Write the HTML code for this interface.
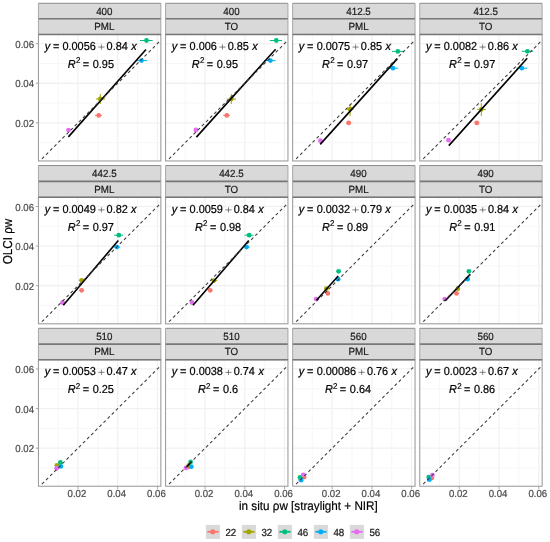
<!DOCTYPE html><html><head><meta charset="utf-8"><style>html,body{margin:0;padding:0;background:#fff;}svg{display:block;will-change:transform;}text{font-family:"Liberation Sans",sans-serif;text-rendering:geometricPrecision;}</style></head><body>
<svg width="550" height="542" viewBox="0 0 550 542">
<rect width="550" height="542" fill="#fff"/>
<rect x="38.45" y="3.3" width="122.4" height="31.15" fill="#d9d9d9"/>
<path d="M38.45 3.3H160.85" stroke="#8a8a8a" stroke-width="1"/>
<path d="M38.45 18.8H160.85" stroke="#777777" stroke-width="1.6"/>
<path d="M38.45 3.3V34.45M160.85 3.3V34.45" stroke="#9f9f9f" stroke-width="0.9"/>
<text x="104.35" y="14.6" font-size="9.8" fill="#1a1a1a" text-anchor="middle" stroke="#1a1a1a" stroke-width="0.2" transform="matrix(1 0 0 1.06 0 -0.67)">400</text>
<text x="104.35" y="30.2" font-size="9.8" fill="#1a1a1a" text-anchor="middle" stroke="#1a1a1a" stroke-width="0.2" transform="matrix(1 0 0 1.06 0 -1.6)">PML</text>
<clipPath id="c0"><rect x="38.45" y="34.45" width="122.4" height="126.5"/></clipPath>
<g clip-path="url(#c0)">
<line x1="58.05" y1="34.45" x2="58.05" y2="160.95" stroke="#f7f7f7" stroke-width="1.0"/>
<line x1="77.95" y1="34.45" x2="77.95" y2="160.95" stroke="#f1f1f1" stroke-width="1.3"/>
<line x1="97.85" y1="34.45" x2="97.85" y2="160.95" stroke="#f7f7f7" stroke-width="1.0"/>
<line x1="117.7" y1="34.45" x2="117.7" y2="160.95" stroke="#f1f1f1" stroke-width="1.3"/>
<line x1="137.55" y1="34.45" x2="137.55" y2="160.95" stroke="#f7f7f7" stroke-width="1.0"/>
<line x1="157.45" y1="34.45" x2="157.45" y2="160.95" stroke="#f1f1f1" stroke-width="1.3"/>
<line x1="38.45" y1="43.65" x2="160.85" y2="43.65" stroke="#f1f1f1" stroke-width="1.3"/>
<line x1="38.45" y1="63.45" x2="160.85" y2="63.45" stroke="#f7f7f7" stroke-width="1.0"/>
<line x1="38.45" y1="83.25" x2="160.85" y2="83.25" stroke="#f1f1f1" stroke-width="1.3"/>
<line x1="38.45" y1="103.05" x2="160.85" y2="103.05" stroke="#f7f7f7" stroke-width="1.0"/>
<line x1="38.45" y1="122.9" x2="160.85" y2="122.9" stroke="#f1f1f1" stroke-width="1.3"/>
<line x1="38.45" y1="142.7" x2="160.85" y2="142.7" stroke="#f7f7f7" stroke-width="1.0"/>
<line x1="95" y1="115.4" x2="102" y2="115.4" stroke="#F8766D" stroke-width="1"/>
<line x1="96" y1="99" x2="105" y2="99" stroke="#A3A500" stroke-width="1"/>
<line x1="100.3" y1="94" x2="100.3" y2="104" stroke="#A3A500" stroke-width="1"/>
<line x1="140" y1="40.5" x2="152.7" y2="40.5" stroke="#00BF7D" stroke-width="1"/>
<line x1="136.4" y1="60.6" x2="147.1" y2="60.6" stroke="#00B0F6" stroke-width="1"/>
<circle cx="98.7" cy="115.4" r="2.4" fill="#F8766D"/>
<circle cx="100.3" cy="99" r="2.4" fill="#A3A500"/>
<circle cx="146.5" cy="40.5" r="2.4" fill="#00BF7D"/>
<circle cx="141.5" cy="60.6" r="2.4" fill="#00B0F6"/>
<circle cx="68.5" cy="130.1" r="2.4" fill="#E76BF3"/>
<line x1="68.4" y1="136.9" x2="146" y2="49.5" stroke="#000" stroke-width="1.6"/>
<line x1="39.8" y1="160.95" x2="160.85" y2="40.21" stroke="#3a3a3a" stroke-width="1.05" stroke-dasharray="3.1 2.7" stroke-dashoffset="-2.95"/>
</g>
<rect x="38.45" y="34.45" width="122.4" height="126.5" fill="none" stroke="#9f9f9f" stroke-width="1.1"/>
<path d="M38.45 34.45H160.85" stroke="#777777" stroke-width="1.6"/>
<text x="44.67" y="49.55" font-size="10.9" fill="#000" font-style="italic" stroke="#000" stroke-width="0.2" transform="matrix(1 0 0 1.06 0 -2.74)">y</text>
<text x="52.88" y="49.55" font-size="10.9" fill="#000" stroke="#000" stroke-width="0.2" transform="matrix(1 0 0 1.06 0 -2.74)">=</text>
<text x="62.49" y="49.55" font-size="10.9" fill="#000" stroke="#000" stroke-width="0.2" transform="matrix(1 0 0 1.06 0 -2.74)">0.0056</text>
<path d="M98.3 47.05H104.5M101.4 44.45V49.65" stroke="#555" stroke-width="0.75" fill="none"/>
<text x="106.62" y="49.55" font-size="10.9" fill="#000" stroke="#000" stroke-width="0.2" transform="matrix(1 0 0 1.06 0 -2.74)">0.84</text>
<text x="131.3" y="49.55" font-size="10.9" fill="#000" font-style="italic" stroke="#000" stroke-width="0.2" transform="matrix(1 0 0 1.06 0 -2.74)">x</text>
<text x="67.84" y="67.55" font-size="10.9" fill="#000" font-style="italic" stroke="#000" stroke-width="0.2" transform="matrix(1 0 0 1.06 0 -3.82)">R</text>
<text x="75.97" y="63.15" font-size="8" fill="#000" stroke="#000" stroke-width="0.2" transform="matrix(1 0 0 1.06 0 -3.62)">2</text>
<text x="82.79" y="67.55" font-size="10.9" fill="#000" stroke="#000" stroke-width="0.2" transform="matrix(1 0 0 1.06 0 -3.82)">=</text>
<text x="92.79" y="67.55" font-size="10.9" fill="#000" stroke="#000" stroke-width="0.2" transform="matrix(1 0 0 1.06 0 -3.82)">0.95</text>
<rect x="165.55" y="3.3" width="122.4" height="31.15" fill="#d9d9d9"/>
<path d="M165.55 3.3H287.95" stroke="#8a8a8a" stroke-width="1"/>
<path d="M165.55 18.8H287.95" stroke="#777777" stroke-width="1.6"/>
<path d="M165.55 3.3V34.45M287.95 3.3V34.45" stroke="#9f9f9f" stroke-width="0.9"/>
<text x="231.45" y="14.6" font-size="9.8" fill="#1a1a1a" text-anchor="middle" stroke="#1a1a1a" stroke-width="0.2" transform="matrix(1 0 0 1.06 0 -0.67)">400</text>
<text x="231.45" y="30.2" font-size="9.8" fill="#1a1a1a" text-anchor="middle" stroke="#1a1a1a" stroke-width="0.2" transform="matrix(1 0 0 1.06 0 -1.6)">TO</text>
<clipPath id="c1"><rect x="165.55" y="34.45" width="122.4" height="126.5"/></clipPath>
<g clip-path="url(#c1)">
<line x1="185.15" y1="34.45" x2="185.15" y2="160.95" stroke="#f7f7f7" stroke-width="1.0"/>
<line x1="205.05" y1="34.45" x2="205.05" y2="160.95" stroke="#f1f1f1" stroke-width="1.3"/>
<line x1="224.95" y1="34.45" x2="224.95" y2="160.95" stroke="#f7f7f7" stroke-width="1.0"/>
<line x1="244.8" y1="34.45" x2="244.8" y2="160.95" stroke="#f1f1f1" stroke-width="1.3"/>
<line x1="264.65" y1="34.45" x2="264.65" y2="160.95" stroke="#f7f7f7" stroke-width="1.0"/>
<line x1="284.55" y1="34.45" x2="284.55" y2="160.95" stroke="#f1f1f1" stroke-width="1.3"/>
<line x1="165.55" y1="43.65" x2="287.95" y2="43.65" stroke="#f1f1f1" stroke-width="1.3"/>
<line x1="165.55" y1="63.45" x2="287.95" y2="63.45" stroke="#f7f7f7" stroke-width="1.0"/>
<line x1="165.55" y1="83.25" x2="287.95" y2="83.25" stroke="#f1f1f1" stroke-width="1.3"/>
<line x1="165.55" y1="103.05" x2="287.95" y2="103.05" stroke="#f7f7f7" stroke-width="1.0"/>
<line x1="165.55" y1="122.9" x2="287.95" y2="122.9" stroke="#f1f1f1" stroke-width="1.3"/>
<line x1="165.55" y1="142.7" x2="287.95" y2="142.7" stroke="#f7f7f7" stroke-width="1.0"/>
<line x1="223.1" y1="115.4" x2="230.1" y2="115.4" stroke="#F8766D" stroke-width="1"/>
<line x1="226.8" y1="99.1" x2="236" y2="99.1" stroke="#A3A500" stroke-width="1"/>
<line x1="231.3" y1="94" x2="231.3" y2="103.9" stroke="#A3A500" stroke-width="1"/>
<line x1="269.8" y1="40.5" x2="282.2" y2="40.5" stroke="#00BF7D" stroke-width="1"/>
<line x1="264.2" y1="60.6" x2="275.7" y2="60.6" stroke="#00B0F6" stroke-width="1"/>
<circle cx="226.8" cy="115.4" r="2.4" fill="#F8766D"/>
<circle cx="231.3" cy="99.1" r="2.4" fill="#A3A500"/>
<circle cx="276.3" cy="40.5" r="2.4" fill="#00BF7D"/>
<circle cx="270.4" cy="60.6" r="2.4" fill="#00B0F6"/>
<circle cx="195.9" cy="130" r="2.4" fill="#E76BF3"/>
<line x1="196.4" y1="137.1" x2="275.6" y2="49.2" stroke="#000" stroke-width="1.6"/>
<line x1="166.9" y1="160.95" x2="287.95" y2="40.21" stroke="#3a3a3a" stroke-width="1.05" stroke-dasharray="3.1 2.7" stroke-dashoffset="-2.95"/>
</g>
<rect x="165.55" y="34.45" width="122.4" height="126.5" fill="none" stroke="#9f9f9f" stroke-width="1.1"/>
<path d="M165.55 34.45H287.95" stroke="#777777" stroke-width="1.6"/>
<text x="171.77" y="49.55" font-size="10.9" fill="#000" font-style="italic" stroke="#000" stroke-width="0.2" transform="matrix(1 0 0 1.06 0 -2.74)">y</text>
<text x="179.98" y="49.55" font-size="10.9" fill="#000" stroke="#000" stroke-width="0.2" transform="matrix(1 0 0 1.06 0 -2.74)">=</text>
<text x="189.59" y="49.55" font-size="10.9" fill="#000" stroke="#000" stroke-width="0.2" transform="matrix(1 0 0 1.06 0 -2.74)">0.006</text>
<path d="M219.33 47.05H225.53M222.43 44.45V49.65" stroke="#555" stroke-width="0.75" fill="none"/>
<text x="227.66" y="49.55" font-size="10.9" fill="#000" stroke="#000" stroke-width="0.2" transform="matrix(1 0 0 1.06 0 -2.74)">0.85</text>
<text x="252.2" y="49.55" font-size="10.9" fill="#000" font-style="italic" stroke="#000" stroke-width="0.2" transform="matrix(1 0 0 1.06 0 -2.74)">x</text>
<text x="191.84" y="67.55" font-size="10.9" fill="#000" font-style="italic" stroke="#000" stroke-width="0.2" transform="matrix(1 0 0 1.06 0 -3.82)">R</text>
<text x="199.97" y="63.15" font-size="8" fill="#000" stroke="#000" stroke-width="0.2" transform="matrix(1 0 0 1.06 0 -3.62)">2</text>
<text x="206.79" y="67.55" font-size="10.9" fill="#000" stroke="#000" stroke-width="0.2" transform="matrix(1 0 0 1.06 0 -3.82)">=</text>
<text x="216.79" y="67.55" font-size="10.9" fill="#000" stroke="#000" stroke-width="0.2" transform="matrix(1 0 0 1.06 0 -3.82)">0.95</text>
<rect x="292.65" y="3.3" width="122.4" height="31.15" fill="#d9d9d9"/>
<path d="M292.65 3.3H415.05" stroke="#8a8a8a" stroke-width="1"/>
<path d="M292.65 18.8H415.05" stroke="#777777" stroke-width="1.6"/>
<path d="M292.65 3.3V34.45M415.05 3.3V34.45" stroke="#9f9f9f" stroke-width="0.9"/>
<text x="358.55" y="14.6" font-size="9.8" fill="#1a1a1a" text-anchor="middle" stroke="#1a1a1a" stroke-width="0.2" transform="matrix(1 0 0 1.06 0 -0.67)">412.5</text>
<text x="358.55" y="30.2" font-size="9.8" fill="#1a1a1a" text-anchor="middle" stroke="#1a1a1a" stroke-width="0.2" transform="matrix(1 0 0 1.06 0 -1.6)">PML</text>
<clipPath id="c2"><rect x="292.65" y="34.45" width="122.4" height="126.5"/></clipPath>
<g clip-path="url(#c2)">
<line x1="312.25" y1="34.45" x2="312.25" y2="160.95" stroke="#f7f7f7" stroke-width="1.0"/>
<line x1="332.15" y1="34.45" x2="332.15" y2="160.95" stroke="#f1f1f1" stroke-width="1.3"/>
<line x1="352.05" y1="34.45" x2="352.05" y2="160.95" stroke="#f7f7f7" stroke-width="1.0"/>
<line x1="371.9" y1="34.45" x2="371.9" y2="160.95" stroke="#f1f1f1" stroke-width="1.3"/>
<line x1="391.75" y1="34.45" x2="391.75" y2="160.95" stroke="#f7f7f7" stroke-width="1.0"/>
<line x1="411.65" y1="34.45" x2="411.65" y2="160.95" stroke="#f1f1f1" stroke-width="1.3"/>
<line x1="292.65" y1="43.65" x2="415.05" y2="43.65" stroke="#f1f1f1" stroke-width="1.3"/>
<line x1="292.65" y1="63.45" x2="415.05" y2="63.45" stroke="#f7f7f7" stroke-width="1.0"/>
<line x1="292.65" y1="83.25" x2="415.05" y2="83.25" stroke="#f1f1f1" stroke-width="1.3"/>
<line x1="292.65" y1="103.05" x2="415.05" y2="103.05" stroke="#f7f7f7" stroke-width="1.0"/>
<line x1="292.65" y1="122.9" x2="415.05" y2="122.9" stroke="#f1f1f1" stroke-width="1.3"/>
<line x1="292.65" y1="142.7" x2="415.05" y2="142.7" stroke="#f7f7f7" stroke-width="1.0"/>
<line x1="346.1" y1="122.9" x2="351.2" y2="122.9" stroke="#F8766D" stroke-width="1"/>
<line x1="346.1" y1="109.2" x2="353.8" y2="109.2" stroke="#A3A500" stroke-width="1"/>
<line x1="350.1" y1="103.9" x2="350.1" y2="116" stroke="#A3A500" stroke-width="1"/>
<line x1="392" y1="51.4" x2="403.9" y2="51.4" stroke="#00BF7D" stroke-width="1"/>
<line x1="387.3" y1="68.2" x2="398.3" y2="68.2" stroke="#00B0F6" stroke-width="1"/>
<circle cx="348.7" cy="122.9" r="2.4" fill="#F8766D"/>
<circle cx="350.1" cy="109.2" r="2.4" fill="#A3A500"/>
<circle cx="397.8" cy="51.4" r="2.4" fill="#00BF7D"/>
<circle cx="392.9" cy="68.2" r="2.4" fill="#00B0F6"/>
<circle cx="320.4" cy="140.7" r="2.4" fill="#E76BF3"/>
<line x1="320.2" y1="144.4" x2="397.4" y2="58.6" stroke="#000" stroke-width="1.6"/>
<line x1="294" y1="160.95" x2="415.05" y2="40.21" stroke="#3a3a3a" stroke-width="1.05" stroke-dasharray="3.1 2.7" stroke-dashoffset="-2.95"/>
</g>
<rect x="292.65" y="34.45" width="122.4" height="126.5" fill="none" stroke="#9f9f9f" stroke-width="1.1"/>
<path d="M292.65 34.45H415.05" stroke="#777777" stroke-width="1.6"/>
<text x="298.87" y="49.55" font-size="10.9" fill="#000" font-style="italic" stroke="#000" stroke-width="0.2" transform="matrix(1 0 0 1.06 0 -2.74)">y</text>
<text x="307.08" y="49.55" font-size="10.9" fill="#000" stroke="#000" stroke-width="0.2" transform="matrix(1 0 0 1.06 0 -2.74)">=</text>
<text x="316.69" y="49.55" font-size="10.9" fill="#000" stroke="#000" stroke-width="0.2" transform="matrix(1 0 0 1.06 0 -2.74)">0.0075</text>
<path d="M352.52 47.05H358.72M355.62 44.45V49.65" stroke="#555" stroke-width="0.75" fill="none"/>
<text x="360.84" y="49.55" font-size="10.9" fill="#000" stroke="#000" stroke-width="0.2" transform="matrix(1 0 0 1.06 0 -2.74)">0.85</text>
<text x="385.38" y="49.55" font-size="10.9" fill="#000" font-style="italic" stroke="#000" stroke-width="0.2" transform="matrix(1 0 0 1.06 0 -2.74)">x</text>
<text x="322.03" y="67.55" font-size="10.9" fill="#000" font-style="italic" stroke="#000" stroke-width="0.2" transform="matrix(1 0 0 1.06 0 -3.82)">R</text>
<text x="330.16" y="63.15" font-size="8" fill="#000" stroke="#000" stroke-width="0.2" transform="matrix(1 0 0 1.06 0 -3.62)">2</text>
<text x="336.97" y="67.55" font-size="10.9" fill="#000" stroke="#000" stroke-width="0.2" transform="matrix(1 0 0 1.06 0 -3.82)">=</text>
<text x="346.98" y="67.55" font-size="10.9" fill="#000" stroke="#000" stroke-width="0.2" transform="matrix(1 0 0 1.06 0 -3.82)">0.97</text>
<rect x="419.75" y="3.3" width="122.4" height="31.15" fill="#d9d9d9"/>
<path d="M419.75 3.3H542.15" stroke="#8a8a8a" stroke-width="1"/>
<path d="M419.75 18.8H542.15" stroke="#777777" stroke-width="1.6"/>
<path d="M419.75 3.3V34.45M542.15 3.3V34.45" stroke="#9f9f9f" stroke-width="0.9"/>
<text x="485.65" y="14.6" font-size="9.8" fill="#1a1a1a" text-anchor="middle" stroke="#1a1a1a" stroke-width="0.2" transform="matrix(1 0 0 1.06 0 -0.67)">412.5</text>
<text x="485.65" y="30.2" font-size="9.8" fill="#1a1a1a" text-anchor="middle" stroke="#1a1a1a" stroke-width="0.2" transform="matrix(1 0 0 1.06 0 -1.6)">TO</text>
<clipPath id="c3"><rect x="419.75" y="34.45" width="122.4" height="126.5"/></clipPath>
<g clip-path="url(#c3)">
<line x1="439.35" y1="34.45" x2="439.35" y2="160.95" stroke="#f7f7f7" stroke-width="1.0"/>
<line x1="459.25" y1="34.45" x2="459.25" y2="160.95" stroke="#f1f1f1" stroke-width="1.3"/>
<line x1="479.15" y1="34.45" x2="479.15" y2="160.95" stroke="#f7f7f7" stroke-width="1.0"/>
<line x1="499" y1="34.45" x2="499" y2="160.95" stroke="#f1f1f1" stroke-width="1.3"/>
<line x1="518.85" y1="34.45" x2="518.85" y2="160.95" stroke="#f7f7f7" stroke-width="1.0"/>
<line x1="538.75" y1="34.45" x2="538.75" y2="160.95" stroke="#f1f1f1" stroke-width="1.3"/>
<line x1="419.75" y1="43.65" x2="542.15" y2="43.65" stroke="#f1f1f1" stroke-width="1.3"/>
<line x1="419.75" y1="63.45" x2="542.15" y2="63.45" stroke="#f7f7f7" stroke-width="1.0"/>
<line x1="419.75" y1="83.25" x2="542.15" y2="83.25" stroke="#f1f1f1" stroke-width="1.3"/>
<line x1="419.75" y1="103.05" x2="542.15" y2="103.05" stroke="#f7f7f7" stroke-width="1.0"/>
<line x1="419.75" y1="122.9" x2="542.15" y2="122.9" stroke="#f1f1f1" stroke-width="1.3"/>
<line x1="419.75" y1="142.7" x2="542.15" y2="142.7" stroke="#f7f7f7" stroke-width="1.0"/>
<line x1="474.5" y1="122.9" x2="479.3" y2="122.9" stroke="#F8766D" stroke-width="1"/>
<line x1="477.1" y1="109.4" x2="486" y2="109.4" stroke="#A3A500" stroke-width="1"/>
<line x1="481.3" y1="103.1" x2="481.3" y2="116" stroke="#A3A500" stroke-width="1"/>
<line x1="521.6" y1="51.3" x2="533.2" y2="51.3" stroke="#00BF7D" stroke-width="1"/>
<line x1="516.6" y1="68.2" x2="527.2" y2="68.2" stroke="#00B0F6" stroke-width="1"/>
<circle cx="476.8" cy="122.9" r="2.4" fill="#F8766D"/>
<circle cx="481.3" cy="109.4" r="2.4" fill="#A3A500"/>
<circle cx="527.4" cy="51.3" r="2.4" fill="#00BF7D"/>
<circle cx="521.9" cy="68.2" r="2.4" fill="#00B0F6"/>
<circle cx="448.5" cy="140.2" r="2.4" fill="#E76BF3"/>
<line x1="448.8" y1="145.6" x2="527.2" y2="58.3" stroke="#000" stroke-width="1.6"/>
<line x1="421.1" y1="160.95" x2="542.15" y2="40.21" stroke="#3a3a3a" stroke-width="1.05" stroke-dasharray="3.1 2.7" stroke-dashoffset="-2.95"/>
</g>
<rect x="419.75" y="34.45" width="122.4" height="126.5" fill="none" stroke="#9f9f9f" stroke-width="1.1"/>
<path d="M419.75 34.45H542.15" stroke="#777777" stroke-width="1.6"/>
<text x="425.97" y="49.55" font-size="10.9" fill="#000" font-style="italic" stroke="#000" stroke-width="0.2" transform="matrix(1 0 0 1.06 0 -2.74)">y</text>
<text x="434.18" y="49.55" font-size="10.9" fill="#000" stroke="#000" stroke-width="0.2" transform="matrix(1 0 0 1.06 0 -2.74)">=</text>
<text x="443.79" y="49.55" font-size="10.9" fill="#000" stroke="#000" stroke-width="0.2" transform="matrix(1 0 0 1.06 0 -2.74)">0.0082</text>
<path d="M479.53 47.05H485.73M482.63 44.45V49.65" stroke="#555" stroke-width="0.75" fill="none"/>
<text x="487.85" y="49.55" font-size="10.9" fill="#000" stroke="#000" stroke-width="0.2" transform="matrix(1 0 0 1.06 0 -2.74)">0.86</text>
<text x="512.37" y="49.55" font-size="10.9" fill="#000" font-style="italic" stroke="#000" stroke-width="0.2" transform="matrix(1 0 0 1.06 0 -2.74)">x</text>
<text x="449.07" y="67.55" font-size="10.9" fill="#000" font-style="italic" stroke="#000" stroke-width="0.2" transform="matrix(1 0 0 1.06 0 -3.82)">R</text>
<text x="457.2" y="63.15" font-size="8" fill="#000" stroke="#000" stroke-width="0.2" transform="matrix(1 0 0 1.06 0 -3.62)">2</text>
<text x="464.02" y="67.55" font-size="10.9" fill="#000" stroke="#000" stroke-width="0.2" transform="matrix(1 0 0 1.06 0 -3.82)">=</text>
<text x="474.02" y="67.55" font-size="10.9" fill="#000" stroke="#000" stroke-width="0.2" transform="matrix(1 0 0 1.06 0 -3.82)">0.97</text>
<rect x="38.45" y="165.55" width="122.4" height="31.75" fill="#d9d9d9"/>
<path d="M38.45 165.55H160.85" stroke="#8a8a8a" stroke-width="1"/>
<path d="M38.45 181.35H160.85" stroke="#777777" stroke-width="1.6"/>
<path d="M38.45 165.55V197.3M160.85 165.55V197.3" stroke="#9f9f9f" stroke-width="0.9"/>
<text x="104.35" y="176.85" font-size="9.8" fill="#1a1a1a" text-anchor="middle" stroke="#1a1a1a" stroke-width="0.2" transform="matrix(1 0 0 1.06 0 -10.4)">442.5</text>
<text x="104.35" y="192.45" font-size="9.8" fill="#1a1a1a" text-anchor="middle" stroke="#1a1a1a" stroke-width="0.2" transform="matrix(1 0 0 1.06 0 -11.34)">PML</text>
<clipPath id="c4"><rect x="38.45" y="197.3" width="122.4" height="126.5"/></clipPath>
<g clip-path="url(#c4)">
<line x1="58.05" y1="197.3" x2="58.05" y2="323.8" stroke="#f7f7f7" stroke-width="1.0"/>
<line x1="77.95" y1="197.3" x2="77.95" y2="323.8" stroke="#f1f1f1" stroke-width="1.3"/>
<line x1="97.85" y1="197.3" x2="97.85" y2="323.8" stroke="#f7f7f7" stroke-width="1.0"/>
<line x1="117.7" y1="197.3" x2="117.7" y2="323.8" stroke="#f1f1f1" stroke-width="1.3"/>
<line x1="137.55" y1="197.3" x2="137.55" y2="323.8" stroke="#f7f7f7" stroke-width="1.0"/>
<line x1="157.45" y1="197.3" x2="157.45" y2="323.8" stroke="#f1f1f1" stroke-width="1.3"/>
<line x1="38.45" y1="206.5" x2="160.85" y2="206.5" stroke="#f1f1f1" stroke-width="1.3"/>
<line x1="38.45" y1="226.3" x2="160.85" y2="226.3" stroke="#f7f7f7" stroke-width="1.0"/>
<line x1="38.45" y1="246.1" x2="160.85" y2="246.1" stroke="#f1f1f1" stroke-width="1.3"/>
<line x1="38.45" y1="265.9" x2="160.85" y2="265.9" stroke="#f7f7f7" stroke-width="1.0"/>
<line x1="38.45" y1="285.75" x2="160.85" y2="285.75" stroke="#f1f1f1" stroke-width="1.3"/>
<line x1="38.45" y1="305.55" x2="160.85" y2="305.55" stroke="#f7f7f7" stroke-width="1.0"/>
<line x1="78.9" y1="280.3" x2="85.2" y2="280.3" stroke="#A3A500" stroke-width="1"/>
<line x1="114.1" y1="235.2" x2="123" y2="235.2" stroke="#00BF7D" stroke-width="1"/>
<line x1="113.8" y1="247.1" x2="120.2" y2="247.1" stroke="#00B0F6" stroke-width="1"/>
<circle cx="81.6" cy="290.3" r="2.4" fill="#F8766D"/>
<circle cx="81.6" cy="280.3" r="2.4" fill="#A3A500"/>
<circle cx="118.8" cy="235.2" r="2.4" fill="#00BF7D"/>
<circle cx="116.9" cy="247.1" r="2.4" fill="#00B0F6"/>
<circle cx="62.6" cy="302.5" r="2.4" fill="#E76BF3"/>
<line x1="63.3" y1="305.2" x2="118.3" y2="240.5" stroke="#000" stroke-width="1.6"/>
<line x1="39.8" y1="323.8" x2="160.85" y2="203.06" stroke="#3a3a3a" stroke-width="1.05" stroke-dasharray="3.1 2.7" stroke-dashoffset="-2.95"/>
</g>
<rect x="38.45" y="197.3" width="122.4" height="126.5" fill="none" stroke="#9f9f9f" stroke-width="1.1"/>
<path d="M38.45 197.3H160.85" stroke="#777777" stroke-width="1.6"/>
<text x="44.67" y="212.4" font-size="10.9" fill="#000" font-style="italic" stroke="#000" stroke-width="0.2" transform="matrix(1 0 0 1.06 0 -12.51)">y</text>
<text x="52.88" y="212.4" font-size="10.9" fill="#000" stroke="#000" stroke-width="0.2" transform="matrix(1 0 0 1.06 0 -12.51)">=</text>
<text x="62.49" y="212.4" font-size="10.9" fill="#000" stroke="#000" stroke-width="0.2" transform="matrix(1 0 0 1.06 0 -12.51)">0.0049</text>
<path d="M98.26 209.9H104.46M101.36 207.3V212.5" stroke="#555" stroke-width="0.75" fill="none"/>
<text x="106.58" y="212.4" font-size="10.9" fill="#000" stroke="#000" stroke-width="0.2" transform="matrix(1 0 0 1.06 0 -12.51)">0.82</text>
<text x="131.03" y="212.4" font-size="10.9" fill="#000" font-style="italic" stroke="#000" stroke-width="0.2" transform="matrix(1 0 0 1.06 0 -12.51)">x</text>
<text x="67.75" y="230.4" font-size="10.9" fill="#000" font-style="italic" stroke="#000" stroke-width="0.2" transform="matrix(1 0 0 1.06 0 -13.59)">R</text>
<text x="75.88" y="226" font-size="8" fill="#000" stroke="#000" stroke-width="0.2" transform="matrix(1 0 0 1.06 0 -13.39)">2</text>
<text x="82.7" y="230.4" font-size="10.9" fill="#000" stroke="#000" stroke-width="0.2" transform="matrix(1 0 0 1.06 0 -13.59)">=</text>
<text x="92.7" y="230.4" font-size="10.9" fill="#000" stroke="#000" stroke-width="0.2" transform="matrix(1 0 0 1.06 0 -13.59)">0.97</text>
<rect x="165.55" y="165.55" width="122.4" height="31.75" fill="#d9d9d9"/>
<path d="M165.55 165.55H287.95" stroke="#8a8a8a" stroke-width="1"/>
<path d="M165.55 181.35H287.95" stroke="#777777" stroke-width="1.6"/>
<path d="M165.55 165.55V197.3M287.95 165.55V197.3" stroke="#9f9f9f" stroke-width="0.9"/>
<text x="231.45" y="176.85" font-size="9.8" fill="#1a1a1a" text-anchor="middle" stroke="#1a1a1a" stroke-width="0.2" transform="matrix(1 0 0 1.06 0 -10.4)">442.5</text>
<text x="231.45" y="192.45" font-size="9.8" fill="#1a1a1a" text-anchor="middle" stroke="#1a1a1a" stroke-width="0.2" transform="matrix(1 0 0 1.06 0 -11.34)">TO</text>
<clipPath id="c5"><rect x="165.55" y="197.3" width="122.4" height="126.5"/></clipPath>
<g clip-path="url(#c5)">
<line x1="185.15" y1="197.3" x2="185.15" y2="323.8" stroke="#f7f7f7" stroke-width="1.0"/>
<line x1="205.05" y1="197.3" x2="205.05" y2="323.8" stroke="#f1f1f1" stroke-width="1.3"/>
<line x1="224.95" y1="197.3" x2="224.95" y2="323.8" stroke="#f7f7f7" stroke-width="1.0"/>
<line x1="244.8" y1="197.3" x2="244.8" y2="323.8" stroke="#f1f1f1" stroke-width="1.3"/>
<line x1="264.65" y1="197.3" x2="264.65" y2="323.8" stroke="#f7f7f7" stroke-width="1.0"/>
<line x1="284.55" y1="197.3" x2="284.55" y2="323.8" stroke="#f1f1f1" stroke-width="1.3"/>
<line x1="165.55" y1="206.5" x2="287.95" y2="206.5" stroke="#f1f1f1" stroke-width="1.3"/>
<line x1="165.55" y1="226.3" x2="287.95" y2="226.3" stroke="#f7f7f7" stroke-width="1.0"/>
<line x1="165.55" y1="246.1" x2="287.95" y2="246.1" stroke="#f1f1f1" stroke-width="1.3"/>
<line x1="165.55" y1="265.9" x2="287.95" y2="265.9" stroke="#f7f7f7" stroke-width="1.0"/>
<line x1="165.55" y1="285.75" x2="287.95" y2="285.75" stroke="#f1f1f1" stroke-width="1.3"/>
<line x1="165.55" y1="305.55" x2="287.95" y2="305.55" stroke="#f7f7f7" stroke-width="1.0"/>
<line x1="210.9" y1="280.6" x2="217.2" y2="280.6" stroke="#A3A500" stroke-width="1"/>
<line x1="244.7" y1="235.2" x2="253.5" y2="235.2" stroke="#00BF7D" stroke-width="1"/>
<line x1="243.3" y1="247.1" x2="249.6" y2="247.1" stroke="#00B0F6" stroke-width="1"/>
<circle cx="210.2" cy="290.3" r="2.4" fill="#F8766D"/>
<circle cx="213.9" cy="280.6" r="2.4" fill="#A3A500"/>
<circle cx="249.1" cy="235.2" r="2.4" fill="#00BF7D"/>
<circle cx="246.6" cy="247.1" r="2.4" fill="#00B0F6"/>
<circle cx="192" cy="302.5" r="2.4" fill="#E76BF3"/>
<line x1="193" y1="305.2" x2="248.8" y2="240.5" stroke="#000" stroke-width="1.6"/>
<line x1="166.9" y1="323.8" x2="287.95" y2="203.06" stroke="#3a3a3a" stroke-width="1.05" stroke-dasharray="3.1 2.7" stroke-dashoffset="-2.95"/>
</g>
<rect x="165.55" y="197.3" width="122.4" height="126.5" fill="none" stroke="#9f9f9f" stroke-width="1.1"/>
<path d="M165.55 197.3H287.95" stroke="#777777" stroke-width="1.6"/>
<text x="171.77" y="212.4" font-size="10.9" fill="#000" font-style="italic" stroke="#000" stroke-width="0.2" transform="matrix(1 0 0 1.06 0 -12.51)">y</text>
<text x="179.98" y="212.4" font-size="10.9" fill="#000" stroke="#000" stroke-width="0.2" transform="matrix(1 0 0 1.06 0 -12.51)">=</text>
<text x="189.59" y="212.4" font-size="10.9" fill="#000" stroke="#000" stroke-width="0.2" transform="matrix(1 0 0 1.06 0 -12.51)">0.0059</text>
<path d="M225.36 209.9H231.56M228.46 207.3V212.5" stroke="#555" stroke-width="0.75" fill="none"/>
<text x="233.68" y="212.4" font-size="10.9" fill="#000" stroke="#000" stroke-width="0.2" transform="matrix(1 0 0 1.06 0 -12.51)">0.84</text>
<text x="258.36" y="212.4" font-size="10.9" fill="#000" font-style="italic" stroke="#000" stroke-width="0.2" transform="matrix(1 0 0 1.06 0 -12.51)">x</text>
<text x="194.93" y="230.4" font-size="10.9" fill="#000" font-style="italic" stroke="#000" stroke-width="0.2" transform="matrix(1 0 0 1.06 0 -13.59)">R</text>
<text x="203.06" y="226" font-size="8" fill="#000" stroke="#000" stroke-width="0.2" transform="matrix(1 0 0 1.06 0 -13.39)">2</text>
<text x="209.88" y="230.4" font-size="10.9" fill="#000" stroke="#000" stroke-width="0.2" transform="matrix(1 0 0 1.06 0 -13.59)">=</text>
<text x="219.88" y="230.4" font-size="10.9" fill="#000" stroke="#000" stroke-width="0.2" transform="matrix(1 0 0 1.06 0 -13.59)">0.98</text>
<rect x="292.65" y="165.55" width="122.4" height="31.75" fill="#d9d9d9"/>
<path d="M292.65 165.55H415.05" stroke="#8a8a8a" stroke-width="1"/>
<path d="M292.65 181.35H415.05" stroke="#777777" stroke-width="1.6"/>
<path d="M292.65 165.55V197.3M415.05 165.55V197.3" stroke="#9f9f9f" stroke-width="0.9"/>
<text x="358.55" y="176.85" font-size="9.8" fill="#1a1a1a" text-anchor="middle" stroke="#1a1a1a" stroke-width="0.2" transform="matrix(1 0 0 1.06 0 -10.4)">490</text>
<text x="358.55" y="192.45" font-size="9.8" fill="#1a1a1a" text-anchor="middle" stroke="#1a1a1a" stroke-width="0.2" transform="matrix(1 0 0 1.06 0 -11.34)">PML</text>
<clipPath id="c6"><rect x="292.65" y="197.3" width="122.4" height="126.5"/></clipPath>
<g clip-path="url(#c6)">
<line x1="312.25" y1="197.3" x2="312.25" y2="323.8" stroke="#f7f7f7" stroke-width="1.0"/>
<line x1="332.15" y1="197.3" x2="332.15" y2="323.8" stroke="#f1f1f1" stroke-width="1.3"/>
<line x1="352.05" y1="197.3" x2="352.05" y2="323.8" stroke="#f7f7f7" stroke-width="1.0"/>
<line x1="371.9" y1="197.3" x2="371.9" y2="323.8" stroke="#f1f1f1" stroke-width="1.3"/>
<line x1="391.75" y1="197.3" x2="391.75" y2="323.8" stroke="#f7f7f7" stroke-width="1.0"/>
<line x1="411.65" y1="197.3" x2="411.65" y2="323.8" stroke="#f1f1f1" stroke-width="1.3"/>
<line x1="292.65" y1="206.5" x2="415.05" y2="206.5" stroke="#f1f1f1" stroke-width="1.3"/>
<line x1="292.65" y1="226.3" x2="415.05" y2="226.3" stroke="#f7f7f7" stroke-width="1.0"/>
<line x1="292.65" y1="246.1" x2="415.05" y2="246.1" stroke="#f1f1f1" stroke-width="1.3"/>
<line x1="292.65" y1="265.9" x2="415.05" y2="265.9" stroke="#f7f7f7" stroke-width="1.0"/>
<line x1="292.65" y1="285.75" x2="415.05" y2="285.75" stroke="#f1f1f1" stroke-width="1.3"/>
<line x1="292.65" y1="305.55" x2="415.05" y2="305.55" stroke="#f7f7f7" stroke-width="1.0"/>
<line x1="324.3" y1="288.7" x2="328.9" y2="288.7" stroke="#A3A500" stroke-width="1"/>
<circle cx="327.8" cy="293.4" r="2.4" fill="#F8766D"/>
<circle cx="326.4" cy="288.7" r="2.4" fill="#A3A500"/>
<circle cx="338.6" cy="271.3" r="2.4" fill="#00BF7D"/>
<circle cx="338.1" cy="279.2" r="2.4" fill="#00B0F6"/>
<circle cx="316.1" cy="299.1" r="2.4" fill="#E76BF3"/>
<line x1="316.5" y1="300.3" x2="338.2" y2="276" stroke="#000" stroke-width="1.6"/>
<line x1="294" y1="323.8" x2="415.05" y2="203.06" stroke="#3a3a3a" stroke-width="1.05" stroke-dasharray="3.1 2.7" stroke-dashoffset="-2.95"/>
</g>
<rect x="292.65" y="197.3" width="122.4" height="126.5" fill="none" stroke="#9f9f9f" stroke-width="1.1"/>
<path d="M292.65 197.3H415.05" stroke="#777777" stroke-width="1.6"/>
<text x="298.87" y="212.4" font-size="10.9" fill="#000" font-style="italic" stroke="#000" stroke-width="0.2" transform="matrix(1 0 0 1.06 0 -12.51)">y</text>
<text x="307.08" y="212.4" font-size="10.9" fill="#000" stroke="#000" stroke-width="0.2" transform="matrix(1 0 0 1.06 0 -12.51)">=</text>
<text x="316.69" y="212.4" font-size="10.9" fill="#000" stroke="#000" stroke-width="0.2" transform="matrix(1 0 0 1.06 0 -12.51)">0.0032</text>
<path d="M352.43 209.9H358.63M355.53 207.3V212.5" stroke="#555" stroke-width="0.75" fill="none"/>
<text x="360.75" y="212.4" font-size="10.9" fill="#000" stroke="#000" stroke-width="0.2" transform="matrix(1 0 0 1.06 0 -12.51)">0.79</text>
<text x="385.23" y="212.4" font-size="10.9" fill="#000" font-style="italic" stroke="#000" stroke-width="0.2" transform="matrix(1 0 0 1.06 0 -12.51)">x</text>
<text x="321.93" y="230.4" font-size="10.9" fill="#000" font-style="italic" stroke="#000" stroke-width="0.2" transform="matrix(1 0 0 1.06 0 -13.59)">R</text>
<text x="330.07" y="226" font-size="8" fill="#000" stroke="#000" stroke-width="0.2" transform="matrix(1 0 0 1.06 0 -13.39)">2</text>
<text x="336.88" y="230.4" font-size="10.9" fill="#000" stroke="#000" stroke-width="0.2" transform="matrix(1 0 0 1.06 0 -13.59)">=</text>
<text x="346.89" y="230.4" font-size="10.9" fill="#000" stroke="#000" stroke-width="0.2" transform="matrix(1 0 0 1.06 0 -13.59)">0.89</text>
<rect x="419.75" y="165.55" width="122.4" height="31.75" fill="#d9d9d9"/>
<path d="M419.75 165.55H542.15" stroke="#8a8a8a" stroke-width="1"/>
<path d="M419.75 181.35H542.15" stroke="#777777" stroke-width="1.6"/>
<path d="M419.75 165.55V197.3M542.15 165.55V197.3" stroke="#9f9f9f" stroke-width="0.9"/>
<text x="485.65" y="176.85" font-size="9.8" fill="#1a1a1a" text-anchor="middle" stroke="#1a1a1a" stroke-width="0.2" transform="matrix(1 0 0 1.06 0 -10.4)">490</text>
<text x="485.65" y="192.45" font-size="9.8" fill="#1a1a1a" text-anchor="middle" stroke="#1a1a1a" stroke-width="0.2" transform="matrix(1 0 0 1.06 0 -11.34)">TO</text>
<clipPath id="c7"><rect x="419.75" y="197.3" width="122.4" height="126.5"/></clipPath>
<g clip-path="url(#c7)">
<line x1="439.35" y1="197.3" x2="439.35" y2="323.8" stroke="#f7f7f7" stroke-width="1.0"/>
<line x1="459.25" y1="197.3" x2="459.25" y2="323.8" stroke="#f1f1f1" stroke-width="1.3"/>
<line x1="479.15" y1="197.3" x2="479.15" y2="323.8" stroke="#f7f7f7" stroke-width="1.0"/>
<line x1="499" y1="197.3" x2="499" y2="323.8" stroke="#f1f1f1" stroke-width="1.3"/>
<line x1="518.85" y1="197.3" x2="518.85" y2="323.8" stroke="#f7f7f7" stroke-width="1.0"/>
<line x1="538.75" y1="197.3" x2="538.75" y2="323.8" stroke="#f1f1f1" stroke-width="1.3"/>
<line x1="419.75" y1="206.5" x2="542.15" y2="206.5" stroke="#f1f1f1" stroke-width="1.3"/>
<line x1="419.75" y1="226.3" x2="542.15" y2="226.3" stroke="#f7f7f7" stroke-width="1.0"/>
<line x1="419.75" y1="246.1" x2="542.15" y2="246.1" stroke="#f1f1f1" stroke-width="1.3"/>
<line x1="419.75" y1="265.9" x2="542.15" y2="265.9" stroke="#f7f7f7" stroke-width="1.0"/>
<line x1="419.75" y1="285.75" x2="542.15" y2="285.75" stroke="#f1f1f1" stroke-width="1.3"/>
<line x1="419.75" y1="305.55" x2="542.15" y2="305.55" stroke="#f7f7f7" stroke-width="1.0"/>
<circle cx="456.5" cy="293.4" r="2.4" fill="#F8766D"/>
<circle cx="457.9" cy="288.7" r="2.4" fill="#A3A500"/>
<circle cx="468.9" cy="271.3" r="2.4" fill="#00BF7D"/>
<circle cx="467.6" cy="279.2" r="2.4" fill="#00B0F6"/>
<circle cx="444.7" cy="299.1" r="2.4" fill="#E76BF3"/>
<line x1="445.3" y1="300.8" x2="470.1" y2="274.4" stroke="#000" stroke-width="1.6"/>
<line x1="421.1" y1="323.8" x2="542.15" y2="203.06" stroke="#3a3a3a" stroke-width="1.05" stroke-dasharray="3.1 2.7" stroke-dashoffset="-2.95"/>
</g>
<rect x="419.75" y="197.3" width="122.4" height="126.5" fill="none" stroke="#9f9f9f" stroke-width="1.1"/>
<path d="M419.75 197.3H542.15" stroke="#777777" stroke-width="1.6"/>
<text x="425.97" y="212.4" font-size="10.9" fill="#000" font-style="italic" stroke="#000" stroke-width="0.2" transform="matrix(1 0 0 1.06 0 -12.51)">y</text>
<text x="434.18" y="212.4" font-size="10.9" fill="#000" stroke="#000" stroke-width="0.2" transform="matrix(1 0 0 1.06 0 -12.51)">=</text>
<text x="443.79" y="212.4" font-size="10.9" fill="#000" stroke="#000" stroke-width="0.2" transform="matrix(1 0 0 1.06 0 -12.51)">0.0035</text>
<path d="M479.62 209.9H485.82M482.72 207.3V212.5" stroke="#555" stroke-width="0.75" fill="none"/>
<text x="487.94" y="212.4" font-size="10.9" fill="#000" stroke="#000" stroke-width="0.2" transform="matrix(1 0 0 1.06 0 -12.51)">0.84</text>
<text x="512.62" y="212.4" font-size="10.9" fill="#000" font-style="italic" stroke="#000" stroke-width="0.2" transform="matrix(1 0 0 1.06 0 -12.51)">x</text>
<text x="449.19" y="230.4" font-size="10.9" fill="#000" font-style="italic" stroke="#000" stroke-width="0.2" transform="matrix(1 0 0 1.06 0 -13.59)">R</text>
<text x="457.32" y="226" font-size="8" fill="#000" stroke="#000" stroke-width="0.2" transform="matrix(1 0 0 1.06 0 -13.39)">2</text>
<text x="464.14" y="230.4" font-size="10.9" fill="#000" stroke="#000" stroke-width="0.2" transform="matrix(1 0 0 1.06 0 -13.59)">=</text>
<text x="474.14" y="230.4" font-size="10.9" fill="#000" stroke="#000" stroke-width="0.2" transform="matrix(1 0 0 1.06 0 -13.59)">0.91</text>
<rect x="38.45" y="328.3" width="122.4" height="31.45" fill="#d9d9d9"/>
<path d="M38.45 328.3H160.85" stroke="#8a8a8a" stroke-width="1"/>
<path d="M38.45 344.15H160.85" stroke="#777777" stroke-width="1.6"/>
<path d="M38.45 328.3V359.75M160.85 328.3V359.75" stroke="#9f9f9f" stroke-width="0.9"/>
<text x="104.35" y="339.6" font-size="9.8" fill="#1a1a1a" text-anchor="middle" stroke="#1a1a1a" stroke-width="0.2" transform="matrix(1 0 0 1.06 0 -20.17)">510</text>
<text x="104.35" y="355.2" font-size="9.8" fill="#1a1a1a" text-anchor="middle" stroke="#1a1a1a" stroke-width="0.2" transform="matrix(1 0 0 1.06 0 -21.1)">PML</text>
<clipPath id="c8"><rect x="38.45" y="359.75" width="122.4" height="126.5"/></clipPath>
<g clip-path="url(#c8)">
<line x1="58.05" y1="359.75" x2="58.05" y2="486.25" stroke="#f7f7f7" stroke-width="1.0"/>
<line x1="77.95" y1="359.75" x2="77.95" y2="486.25" stroke="#f1f1f1" stroke-width="1.3"/>
<line x1="97.85" y1="359.75" x2="97.85" y2="486.25" stroke="#f7f7f7" stroke-width="1.0"/>
<line x1="117.7" y1="359.75" x2="117.7" y2="486.25" stroke="#f1f1f1" stroke-width="1.3"/>
<line x1="137.55" y1="359.75" x2="137.55" y2="486.25" stroke="#f7f7f7" stroke-width="1.0"/>
<line x1="157.45" y1="359.75" x2="157.45" y2="486.25" stroke="#f1f1f1" stroke-width="1.3"/>
<line x1="38.45" y1="368.95" x2="160.85" y2="368.95" stroke="#f1f1f1" stroke-width="1.3"/>
<line x1="38.45" y1="388.75" x2="160.85" y2="388.75" stroke="#f7f7f7" stroke-width="1.0"/>
<line x1="38.45" y1="408.55" x2="160.85" y2="408.55" stroke="#f1f1f1" stroke-width="1.3"/>
<line x1="38.45" y1="428.35" x2="160.85" y2="428.35" stroke="#f7f7f7" stroke-width="1.0"/>
<line x1="38.45" y1="448.2" x2="160.85" y2="448.2" stroke="#f1f1f1" stroke-width="1.3"/>
<line x1="38.45" y1="468" x2="160.85" y2="468" stroke="#f7f7f7" stroke-width="1.0"/>
<circle cx="58.4" cy="466.35" r="2.4" fill="#F8766D"/>
<circle cx="56.9" cy="465.35" r="2.4" fill="#A3A500"/>
<circle cx="60.4" cy="462.4" r="2.4" fill="#00BF7D"/>
<circle cx="60.9" cy="466.45" r="2.4" fill="#00B0F6"/>
<circle cx="56.65" cy="468.35" r="2.4" fill="#E76BF3"/>
<line x1="39.8" y1="486.25" x2="160.85" y2="365.51" stroke="#3a3a3a" stroke-width="1.05" stroke-dasharray="3.1 2.7" stroke-dashoffset="-2.95"/>
</g>
<rect x="38.45" y="359.75" width="122.4" height="126.5" fill="none" stroke="#9f9f9f" stroke-width="1.1"/>
<path d="M38.45 359.75H160.85" stroke="#777777" stroke-width="1.6"/>
<text x="44.67" y="374.85" font-size="10.9" fill="#000" font-style="italic" stroke="#000" stroke-width="0.2" transform="matrix(1 0 0 1.06 0 -22.26)">y</text>
<text x="52.88" y="374.85" font-size="10.9" fill="#000" stroke="#000" stroke-width="0.2" transform="matrix(1 0 0 1.06 0 -22.26)">=</text>
<text x="62.49" y="374.85" font-size="10.9" fill="#000" stroke="#000" stroke-width="0.2" transform="matrix(1 0 0 1.06 0 -22.26)">0.0053</text>
<path d="M98.3 372.35H104.5M101.4 369.75V374.95" stroke="#555" stroke-width="0.75" fill="none"/>
<text x="106.62" y="374.85" font-size="10.9" fill="#000" stroke="#000" stroke-width="0.2" transform="matrix(1 0 0 1.06 0 -22.26)">0.47</text>
<text x="131.07" y="374.85" font-size="10.9" fill="#000" font-style="italic" stroke="#000" stroke-width="0.2" transform="matrix(1 0 0 1.06 0 -22.26)">x</text>
<text x="67.72" y="392.85" font-size="10.9" fill="#000" font-style="italic" stroke="#000" stroke-width="0.2" transform="matrix(1 0 0 1.06 0 -23.34)">R</text>
<text x="75.86" y="388.45" font-size="8" fill="#000" stroke="#000" stroke-width="0.2" transform="matrix(1 0 0 1.06 0 -23.14)">2</text>
<text x="82.67" y="392.85" font-size="10.9" fill="#000" stroke="#000" stroke-width="0.2" transform="matrix(1 0 0 1.06 0 -23.34)">=</text>
<text x="92.68" y="392.85" font-size="10.9" fill="#000" stroke="#000" stroke-width="0.2" transform="matrix(1 0 0 1.06 0 -23.34)">0.25</text>
<rect x="165.55" y="328.3" width="122.4" height="31.45" fill="#d9d9d9"/>
<path d="M165.55 328.3H287.95" stroke="#8a8a8a" stroke-width="1"/>
<path d="M165.55 344.15H287.95" stroke="#777777" stroke-width="1.6"/>
<path d="M165.55 328.3V359.75M287.95 328.3V359.75" stroke="#9f9f9f" stroke-width="0.9"/>
<text x="231.45" y="339.6" font-size="9.8" fill="#1a1a1a" text-anchor="middle" stroke="#1a1a1a" stroke-width="0.2" transform="matrix(1 0 0 1.06 0 -20.17)">510</text>
<text x="231.45" y="355.2" font-size="9.8" fill="#1a1a1a" text-anchor="middle" stroke="#1a1a1a" stroke-width="0.2" transform="matrix(1 0 0 1.06 0 -21.1)">TO</text>
<clipPath id="c9"><rect x="165.55" y="359.75" width="122.4" height="126.5"/></clipPath>
<g clip-path="url(#c9)">
<line x1="185.15" y1="359.75" x2="185.15" y2="486.25" stroke="#f7f7f7" stroke-width="1.0"/>
<line x1="205.05" y1="359.75" x2="205.05" y2="486.25" stroke="#f1f1f1" stroke-width="1.3"/>
<line x1="224.95" y1="359.75" x2="224.95" y2="486.25" stroke="#f7f7f7" stroke-width="1.0"/>
<line x1="244.8" y1="359.75" x2="244.8" y2="486.25" stroke="#f1f1f1" stroke-width="1.3"/>
<line x1="264.65" y1="359.75" x2="264.65" y2="486.25" stroke="#f7f7f7" stroke-width="1.0"/>
<line x1="284.55" y1="359.75" x2="284.55" y2="486.25" stroke="#f1f1f1" stroke-width="1.3"/>
<line x1="165.55" y1="368.95" x2="287.95" y2="368.95" stroke="#f1f1f1" stroke-width="1.3"/>
<line x1="165.55" y1="388.75" x2="287.95" y2="388.75" stroke="#f7f7f7" stroke-width="1.0"/>
<line x1="165.55" y1="408.55" x2="287.95" y2="408.55" stroke="#f1f1f1" stroke-width="1.3"/>
<line x1="165.55" y1="428.35" x2="287.95" y2="428.35" stroke="#f7f7f7" stroke-width="1.0"/>
<line x1="165.55" y1="448.2" x2="287.95" y2="448.2" stroke="#f1f1f1" stroke-width="1.3"/>
<line x1="165.55" y1="468" x2="287.95" y2="468" stroke="#f7f7f7" stroke-width="1.0"/>
<circle cx="188.6" cy="466.75" r="2.4" fill="#F8766D"/>
<circle cx="188.8" cy="465.35" r="2.4" fill="#A3A500"/>
<circle cx="190.6" cy="461.95" r="2.4" fill="#00BF7D"/>
<circle cx="191.3" cy="466.65" r="2.4" fill="#00B0F6"/>
<circle cx="186" cy="467.95" r="2.4" fill="#E76BF3"/>
<line x1="186.6" y1="467.05" x2="191.3" y2="461.75" stroke="#000" stroke-width="1.6"/>
<line x1="166.9" y1="486.25" x2="287.95" y2="365.51" stroke="#3a3a3a" stroke-width="1.05" stroke-dasharray="3.1 2.7" stroke-dashoffset="-2.95"/>
</g>
<rect x="165.55" y="359.75" width="122.4" height="126.5" fill="none" stroke="#9f9f9f" stroke-width="1.1"/>
<path d="M165.55 359.75H287.95" stroke="#777777" stroke-width="1.6"/>
<text x="171.77" y="374.85" font-size="10.9" fill="#000" font-style="italic" stroke="#000" stroke-width="0.2" transform="matrix(1 0 0 1.06 0 -22.26)">y</text>
<text x="179.98" y="374.85" font-size="10.9" fill="#000" stroke="#000" stroke-width="0.2" transform="matrix(1 0 0 1.06 0 -22.26)">=</text>
<text x="189.59" y="374.85" font-size="10.9" fill="#000" stroke="#000" stroke-width="0.2" transform="matrix(1 0 0 1.06 0 -22.26)">0.0038</text>
<path d="M225.4 372.35H231.6M228.5 369.75V374.95" stroke="#555" stroke-width="0.75" fill="none"/>
<text x="233.72" y="374.85" font-size="10.9" fill="#000" stroke="#000" stroke-width="0.2" transform="matrix(1 0 0 1.06 0 -22.26)">0.74</text>
<text x="258.41" y="374.85" font-size="10.9" fill="#000" font-style="italic" stroke="#000" stroke-width="0.2" transform="matrix(1 0 0 1.06 0 -22.26)">x</text>
<text x="197.98" y="392.85" font-size="10.9" fill="#000" font-style="italic" stroke="#000" stroke-width="0.2" transform="matrix(1 0 0 1.06 0 -23.34)">R</text>
<text x="206.12" y="388.45" font-size="8" fill="#000" stroke="#000" stroke-width="0.2" transform="matrix(1 0 0 1.06 0 -23.14)">2</text>
<text x="212.93" y="392.85" font-size="10.9" fill="#000" stroke="#000" stroke-width="0.2" transform="matrix(1 0 0 1.06 0 -23.34)">=</text>
<text x="222.93" y="392.85" font-size="10.9" fill="#000" stroke="#000" stroke-width="0.2" transform="matrix(1 0 0 1.06 0 -23.34)">0.6</text>
<rect x="292.65" y="328.3" width="122.4" height="31.45" fill="#d9d9d9"/>
<path d="M292.65 328.3H415.05" stroke="#8a8a8a" stroke-width="1"/>
<path d="M292.65 344.15H415.05" stroke="#777777" stroke-width="1.6"/>
<path d="M292.65 328.3V359.75M415.05 328.3V359.75" stroke="#9f9f9f" stroke-width="0.9"/>
<text x="358.55" y="339.6" font-size="9.8" fill="#1a1a1a" text-anchor="middle" stroke="#1a1a1a" stroke-width="0.2" transform="matrix(1 0 0 1.06 0 -20.17)">560</text>
<text x="358.55" y="355.2" font-size="9.8" fill="#1a1a1a" text-anchor="middle" stroke="#1a1a1a" stroke-width="0.2" transform="matrix(1 0 0 1.06 0 -21.1)">PML</text>
<clipPath id="c10"><rect x="292.65" y="359.75" width="122.4" height="126.5"/></clipPath>
<g clip-path="url(#c10)">
<line x1="312.25" y1="359.75" x2="312.25" y2="486.25" stroke="#f7f7f7" stroke-width="1.0"/>
<line x1="332.15" y1="359.75" x2="332.15" y2="486.25" stroke="#f1f1f1" stroke-width="1.3"/>
<line x1="352.05" y1="359.75" x2="352.05" y2="486.25" stroke="#f7f7f7" stroke-width="1.0"/>
<line x1="371.9" y1="359.75" x2="371.9" y2="486.25" stroke="#f1f1f1" stroke-width="1.3"/>
<line x1="391.75" y1="359.75" x2="391.75" y2="486.25" stroke="#f7f7f7" stroke-width="1.0"/>
<line x1="411.65" y1="359.75" x2="411.65" y2="486.25" stroke="#f1f1f1" stroke-width="1.3"/>
<line x1="292.65" y1="368.95" x2="415.05" y2="368.95" stroke="#f1f1f1" stroke-width="1.3"/>
<line x1="292.65" y1="388.75" x2="415.05" y2="388.75" stroke="#f7f7f7" stroke-width="1.0"/>
<line x1="292.65" y1="408.55" x2="415.05" y2="408.55" stroke="#f1f1f1" stroke-width="1.3"/>
<line x1="292.65" y1="428.35" x2="415.05" y2="428.35" stroke="#f7f7f7" stroke-width="1.0"/>
<line x1="292.65" y1="448.2" x2="415.05" y2="448.2" stroke="#f1f1f1" stroke-width="1.3"/>
<line x1="292.65" y1="468" x2="415.05" y2="468" stroke="#f7f7f7" stroke-width="1.0"/>
<circle cx="304.2" cy="477.1" r="2.4" fill="#F8766D"/>
<circle cx="300.9" cy="478.75" r="2.4" fill="#A3A500"/>
<circle cx="300" cy="477.5" r="2.4" fill="#00BF7D"/>
<circle cx="301.1" cy="480.2" r="2.4" fill="#00B0F6"/>
<circle cx="303.3" cy="474.85" r="2.4" fill="#E76BF3"/>
<line x1="294" y1="486.25" x2="415.05" y2="365.51" stroke="#3a3a3a" stroke-width="1.05" stroke-dasharray="3.1 2.7" stroke-dashoffset="-2.95"/>
</g>
<rect x="292.65" y="359.75" width="122.4" height="126.5" fill="none" stroke="#9f9f9f" stroke-width="1.1"/>
<path d="M292.65 359.75H415.05" stroke="#777777" stroke-width="1.6"/>
<text x="298.87" y="374.85" font-size="10.9" fill="#000" font-style="italic" stroke="#000" stroke-width="0.2" transform="matrix(1 0 0 1.06 0 -22.26)">y</text>
<text x="307.08" y="374.85" font-size="10.9" fill="#000" stroke="#000" stroke-width="0.2" transform="matrix(1 0 0 1.06 0 -22.26)">=</text>
<text x="316.69" y="374.85" font-size="10.9" fill="#000" stroke="#000" stroke-width="0.2" transform="matrix(1 0 0 1.06 0 -22.26)">0.00086</text>
<path d="M358.56 372.35H364.76M361.66 369.75V374.95" stroke="#555" stroke-width="0.75" fill="none"/>
<text x="366.88" y="374.85" font-size="10.9" fill="#000" stroke="#000" stroke-width="0.2" transform="matrix(1 0 0 1.06 0 -22.26)">0.76</text>
<text x="391.4" y="374.85" font-size="10.9" fill="#000" font-style="italic" stroke="#000" stroke-width="0.2" transform="matrix(1 0 0 1.06 0 -22.26)">x</text>
<text x="324.92" y="392.85" font-size="10.9" fill="#000" font-style="italic" stroke="#000" stroke-width="0.2" transform="matrix(1 0 0 1.06 0 -23.34)">R</text>
<text x="333.05" y="388.45" font-size="8" fill="#000" stroke="#000" stroke-width="0.2" transform="matrix(1 0 0 1.06 0 -23.14)">2</text>
<text x="339.87" y="392.85" font-size="10.9" fill="#000" stroke="#000" stroke-width="0.2" transform="matrix(1 0 0 1.06 0 -23.34)">=</text>
<text x="349.87" y="392.85" font-size="10.9" fill="#000" stroke="#000" stroke-width="0.2" transform="matrix(1 0 0 1.06 0 -23.34)">0.64</text>
<rect x="419.75" y="328.3" width="122.4" height="31.45" fill="#d9d9d9"/>
<path d="M419.75 328.3H542.15" stroke="#8a8a8a" stroke-width="1"/>
<path d="M419.75 344.15H542.15" stroke="#777777" stroke-width="1.6"/>
<path d="M419.75 328.3V359.75M542.15 328.3V359.75" stroke="#9f9f9f" stroke-width="0.9"/>
<text x="485.65" y="339.6" font-size="9.8" fill="#1a1a1a" text-anchor="middle" stroke="#1a1a1a" stroke-width="0.2" transform="matrix(1 0 0 1.06 0 -20.17)">560</text>
<text x="485.65" y="355.2" font-size="9.8" fill="#1a1a1a" text-anchor="middle" stroke="#1a1a1a" stroke-width="0.2" transform="matrix(1 0 0 1.06 0 -21.1)">TO</text>
<clipPath id="c11"><rect x="419.75" y="359.75" width="122.4" height="126.5"/></clipPath>
<g clip-path="url(#c11)">
<line x1="439.35" y1="359.75" x2="439.35" y2="486.25" stroke="#f7f7f7" stroke-width="1.0"/>
<line x1="459.25" y1="359.75" x2="459.25" y2="486.25" stroke="#f1f1f1" stroke-width="1.3"/>
<line x1="479.15" y1="359.75" x2="479.15" y2="486.25" stroke="#f7f7f7" stroke-width="1.0"/>
<line x1="499" y1="359.75" x2="499" y2="486.25" stroke="#f1f1f1" stroke-width="1.3"/>
<line x1="518.85" y1="359.75" x2="518.85" y2="486.25" stroke="#f7f7f7" stroke-width="1.0"/>
<line x1="538.75" y1="359.75" x2="538.75" y2="486.25" stroke="#f1f1f1" stroke-width="1.3"/>
<line x1="419.75" y1="368.95" x2="542.15" y2="368.95" stroke="#f1f1f1" stroke-width="1.3"/>
<line x1="419.75" y1="388.75" x2="542.15" y2="388.75" stroke="#f7f7f7" stroke-width="1.0"/>
<line x1="419.75" y1="408.55" x2="542.15" y2="408.55" stroke="#f1f1f1" stroke-width="1.3"/>
<line x1="419.75" y1="428.35" x2="542.15" y2="428.35" stroke="#f7f7f7" stroke-width="1.0"/>
<line x1="419.75" y1="448.2" x2="542.15" y2="448.2" stroke="#f1f1f1" stroke-width="1.3"/>
<line x1="419.75" y1="468" x2="542.15" y2="468" stroke="#f7f7f7" stroke-width="1.0"/>
<circle cx="431.8" cy="478" r="2.4" fill="#F8766D"/>
<circle cx="429.6" cy="478.75" r="2.4" fill="#A3A500"/>
<circle cx="428.7" cy="477.1" r="2.4" fill="#00BF7D"/>
<circle cx="429.2" cy="479.7" r="2.4" fill="#00B0F6"/>
<circle cx="432.5" cy="475.1" r="2.4" fill="#E76BF3"/>
<line x1="421.1" y1="486.25" x2="542.15" y2="365.51" stroke="#3a3a3a" stroke-width="1.05" stroke-dasharray="3.1 2.7" stroke-dashoffset="-2.95"/>
</g>
<rect x="419.75" y="359.75" width="122.4" height="126.5" fill="none" stroke="#9f9f9f" stroke-width="1.1"/>
<path d="M419.75 359.75H542.15" stroke="#777777" stroke-width="1.6"/>
<text x="425.97" y="374.85" font-size="10.9" fill="#000" font-style="italic" stroke="#000" stroke-width="0.2" transform="matrix(1 0 0 1.06 0 -22.26)">y</text>
<text x="434.18" y="374.85" font-size="10.9" fill="#000" stroke="#000" stroke-width="0.2" transform="matrix(1 0 0 1.06 0 -22.26)">=</text>
<text x="443.79" y="374.85" font-size="10.9" fill="#000" stroke="#000" stroke-width="0.2" transform="matrix(1 0 0 1.06 0 -22.26)">0.0023</text>
<path d="M479.6 372.35H485.8M482.7 369.75V374.95" stroke="#555" stroke-width="0.75" fill="none"/>
<text x="487.92" y="374.85" font-size="10.9" fill="#000" stroke="#000" stroke-width="0.2" transform="matrix(1 0 0 1.06 0 -22.26)">0.67</text>
<text x="512.37" y="374.85" font-size="10.9" fill="#000" font-style="italic" stroke="#000" stroke-width="0.2" transform="matrix(1 0 0 1.06 0 -22.26)">x</text>
<text x="449.03" y="392.85" font-size="10.9" fill="#000" font-style="italic" stroke="#000" stroke-width="0.2" transform="matrix(1 0 0 1.06 0 -23.34)">R</text>
<text x="457.17" y="388.45" font-size="8" fill="#000" stroke="#000" stroke-width="0.2" transform="matrix(1 0 0 1.06 0 -23.14)">2</text>
<text x="463.98" y="392.85" font-size="10.9" fill="#000" stroke="#000" stroke-width="0.2" transform="matrix(1 0 0 1.06 0 -23.34)">=</text>
<text x="473.99" y="392.85" font-size="10.9" fill="#000" stroke="#000" stroke-width="0.2" transform="matrix(1 0 0 1.06 0 -23.34)">0.86</text>
<line x1="35.75" y1="122.9" x2="38.45" y2="122.9" stroke="#9f9f9f" stroke-width="0.9"/>
<text x="34.05" y="126.7" font-size="9.6" fill="#4d4d4d" text-anchor="end" stroke="#4d4d4d" stroke-width="0.22" transform="matrix(1 0 0 1.06 0 -7.4)">0.02</text>
<line x1="35.75" y1="83.25" x2="38.45" y2="83.25" stroke="#9f9f9f" stroke-width="0.9"/>
<text x="34.05" y="87.05" font-size="9.6" fill="#4d4d4d" text-anchor="end" stroke="#4d4d4d" stroke-width="0.22" transform="matrix(1 0 0 1.06 0 -5.02)">0.04</text>
<line x1="35.75" y1="43.65" x2="38.45" y2="43.65" stroke="#9f9f9f" stroke-width="0.9"/>
<text x="34.05" y="47.45" font-size="9.6" fill="#4d4d4d" text-anchor="end" stroke="#4d4d4d" stroke-width="0.22" transform="matrix(1 0 0 1.06 0 -2.64)">0.06</text>
<line x1="35.75" y1="285.75" x2="38.45" y2="285.75" stroke="#9f9f9f" stroke-width="0.9"/>
<text x="34.05" y="289.55" font-size="9.6" fill="#4d4d4d" text-anchor="end" stroke="#4d4d4d" stroke-width="0.22" transform="matrix(1 0 0 1.06 0 -17.17)">0.02</text>
<line x1="35.75" y1="246.1" x2="38.45" y2="246.1" stroke="#9f9f9f" stroke-width="0.9"/>
<text x="34.05" y="249.9" font-size="9.6" fill="#4d4d4d" text-anchor="end" stroke="#4d4d4d" stroke-width="0.22" transform="matrix(1 0 0 1.06 0 -14.79)">0.04</text>
<line x1="35.75" y1="206.5" x2="38.45" y2="206.5" stroke="#9f9f9f" stroke-width="0.9"/>
<text x="34.05" y="210.3" font-size="9.6" fill="#4d4d4d" text-anchor="end" stroke="#4d4d4d" stroke-width="0.22" transform="matrix(1 0 0 1.06 0 -12.41)">0.06</text>
<line x1="35.75" y1="448.2" x2="38.45" y2="448.2" stroke="#9f9f9f" stroke-width="0.9"/>
<text x="34.05" y="452" font-size="9.6" fill="#4d4d4d" text-anchor="end" stroke="#4d4d4d" stroke-width="0.22" transform="matrix(1 0 0 1.06 0 -26.92)">0.02</text>
<line x1="35.75" y1="408.55" x2="38.45" y2="408.55" stroke="#9f9f9f" stroke-width="0.9"/>
<text x="34.05" y="412.35" font-size="9.6" fill="#4d4d4d" text-anchor="end" stroke="#4d4d4d" stroke-width="0.22" transform="matrix(1 0 0 1.06 0 -24.54)">0.04</text>
<line x1="35.75" y1="368.95" x2="38.45" y2="368.95" stroke="#9f9f9f" stroke-width="0.9"/>
<text x="34.05" y="372.75" font-size="9.6" fill="#4d4d4d" text-anchor="end" stroke="#4d4d4d" stroke-width="0.22" transform="matrix(1 0 0 1.06 0 -22.16)">0.06</text>
<line x1="77.95" y1="486.25" x2="77.95" y2="488.95" stroke="#9f9f9f" stroke-width="0.9"/>
<text x="76.95" y="497.25" font-size="9.6" fill="#4d4d4d" text-anchor="middle" stroke="#4d4d4d" stroke-width="0.22" transform="matrix(1 0 0 1.06 0 -29.63)">0.02</text>
<line x1="117.7" y1="486.25" x2="117.7" y2="488.95" stroke="#9f9f9f" stroke-width="0.9"/>
<text x="116.7" y="497.25" font-size="9.6" fill="#4d4d4d" text-anchor="middle" stroke="#4d4d4d" stroke-width="0.22" transform="matrix(1 0 0 1.06 0 -29.63)">0.04</text>
<line x1="157.45" y1="486.25" x2="157.45" y2="488.95" stroke="#9f9f9f" stroke-width="0.9"/>
<text x="156.45" y="497.25" font-size="9.6" fill="#4d4d4d" text-anchor="middle" stroke="#4d4d4d" stroke-width="0.22" transform="matrix(1 0 0 1.06 0 -29.63)">0.06</text>
<line x1="205.05" y1="486.25" x2="205.05" y2="488.95" stroke="#9f9f9f" stroke-width="0.9"/>
<text x="204.05" y="497.25" font-size="9.6" fill="#4d4d4d" text-anchor="middle" stroke="#4d4d4d" stroke-width="0.22" transform="matrix(1 0 0 1.06 0 -29.63)">0.02</text>
<line x1="244.8" y1="486.25" x2="244.8" y2="488.95" stroke="#9f9f9f" stroke-width="0.9"/>
<text x="243.8" y="497.25" font-size="9.6" fill="#4d4d4d" text-anchor="middle" stroke="#4d4d4d" stroke-width="0.22" transform="matrix(1 0 0 1.06 0 -29.63)">0.04</text>
<line x1="284.55" y1="486.25" x2="284.55" y2="488.95" stroke="#9f9f9f" stroke-width="0.9"/>
<text x="283.55" y="497.25" font-size="9.6" fill="#4d4d4d" text-anchor="middle" stroke="#4d4d4d" stroke-width="0.22" transform="matrix(1 0 0 1.06 0 -29.63)">0.06</text>
<line x1="332.15" y1="486.25" x2="332.15" y2="488.95" stroke="#9f9f9f" stroke-width="0.9"/>
<text x="331.15" y="497.25" font-size="9.6" fill="#4d4d4d" text-anchor="middle" stroke="#4d4d4d" stroke-width="0.22" transform="matrix(1 0 0 1.06 0 -29.63)">0.02</text>
<line x1="371.9" y1="486.25" x2="371.9" y2="488.95" stroke="#9f9f9f" stroke-width="0.9"/>
<text x="370.9" y="497.25" font-size="9.6" fill="#4d4d4d" text-anchor="middle" stroke="#4d4d4d" stroke-width="0.22" transform="matrix(1 0 0 1.06 0 -29.63)">0.04</text>
<line x1="411.65" y1="486.25" x2="411.65" y2="488.95" stroke="#9f9f9f" stroke-width="0.9"/>
<text x="410.65" y="497.25" font-size="9.6" fill="#4d4d4d" text-anchor="middle" stroke="#4d4d4d" stroke-width="0.22" transform="matrix(1 0 0 1.06 0 -29.63)">0.06</text>
<line x1="459.25" y1="486.25" x2="459.25" y2="488.95" stroke="#9f9f9f" stroke-width="0.9"/>
<text x="458.25" y="497.25" font-size="9.6" fill="#4d4d4d" text-anchor="middle" stroke="#4d4d4d" stroke-width="0.22" transform="matrix(1 0 0 1.06 0 -29.63)">0.02</text>
<line x1="499" y1="486.25" x2="499" y2="488.95" stroke="#9f9f9f" stroke-width="0.9"/>
<text x="498" y="497.25" font-size="9.6" fill="#4d4d4d" text-anchor="middle" stroke="#4d4d4d" stroke-width="0.22" transform="matrix(1 0 0 1.06 0 -29.63)">0.04</text>
<line x1="538.75" y1="486.25" x2="538.75" y2="488.95" stroke="#9f9f9f" stroke-width="0.9"/>
<text x="537.75" y="497.25" font-size="9.6" fill="#4d4d4d" text-anchor="middle" stroke="#4d4d4d" stroke-width="0.22" transform="matrix(1 0 0 1.06 0 -29.63)">0.06</text>
<text x="308.4" y="509.8" font-size="11.7" fill="#000" text-anchor="middle" stroke="#000" stroke-width="0.18" transform="matrix(1 0 0 1.06 0 -30.34)">in situ ρw [straylight + NIR]</text>
<text transform="translate(12.1,241.5) rotate(-90) scale(1,1.1)" x="0" y="0" font-size="11.7" fill="#000" text-anchor="middle" stroke="#000" stroke-width="0.18">OLCI ρw</text>
<rect x="205.9" y="524.9" width="14" height="14" fill="#d9d9d9"/>
<line x1="207.4" y1="531.8" x2="218.6" y2="531.8" stroke="#F8766D" stroke-width="1.8"/>
<circle cx="212.8" cy="531.8" r="2.55" fill="#F8766D"/>
<text x="225.4" y="535.6" font-size="9.75" fill="#1a1a1a" stroke="#1a1a1a" stroke-width="0.22" transform="matrix(1 0 0 1.06 0 -31.93)">22</text>
<rect x="241.9" y="524.9" width="14" height="14" fill="#d9d9d9"/>
<line x1="243.4" y1="531.8" x2="254.6" y2="531.8" stroke="#A3A500" stroke-width="1.8"/>
<circle cx="248.8" cy="531.8" r="2.55" fill="#A3A500"/>
<text x="261.4" y="535.6" font-size="9.75" fill="#1a1a1a" stroke="#1a1a1a" stroke-width="0.22" transform="matrix(1 0 0 1.06 0 -31.93)">32</text>
<rect x="277.9" y="524.9" width="14" height="14" fill="#d9d9d9"/>
<line x1="279.4" y1="531.8" x2="290.6" y2="531.8" stroke="#00BF7D" stroke-width="1.8"/>
<circle cx="284.8" cy="531.8" r="2.55" fill="#00BF7D"/>
<text x="297.4" y="535.6" font-size="9.75" fill="#1a1a1a" stroke="#1a1a1a" stroke-width="0.22" transform="matrix(1 0 0 1.06 0 -31.93)">46</text>
<rect x="313.9" y="524.9" width="14" height="14" fill="#d9d9d9"/>
<line x1="315.4" y1="531.8" x2="326.6" y2="531.8" stroke="#00B0F6" stroke-width="1.8"/>
<circle cx="320.8" cy="531.8" r="2.55" fill="#00B0F6"/>
<text x="333.4" y="535.6" font-size="9.75" fill="#1a1a1a" stroke="#1a1a1a" stroke-width="0.22" transform="matrix(1 0 0 1.06 0 -31.93)">48</text>
<rect x="349.9" y="524.9" width="14" height="14" fill="#d9d9d9"/>
<line x1="351.4" y1="531.8" x2="362.6" y2="531.8" stroke="#E76BF3" stroke-width="1.8"/>
<circle cx="356.8" cy="531.8" r="2.55" fill="#E76BF3"/>
<text x="369.4" y="535.6" font-size="9.75" fill="#1a1a1a" stroke="#1a1a1a" stroke-width="0.22" transform="matrix(1 0 0 1.06 0 -31.93)">56</text>
</svg></body></html>
